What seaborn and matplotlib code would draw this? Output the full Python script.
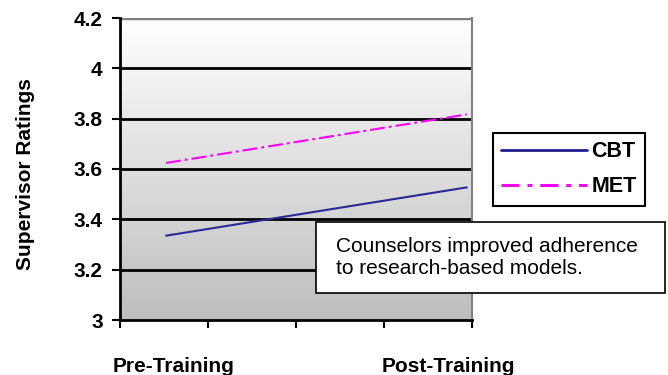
import numpy as np
import pandas as pd
import matplotlib
matplotlib.use("Agg")
import matplotlib.pyplot as plt
from matplotlib.colors import LinearSegmentedColormap
from matplotlib.lines import Line2D
from matplotlib.patches import Rectangle
import seaborn as sns

stages = ["Pre-Training", "Post-Training"]
cbt = [3.335, 3.527]
met = [3.624, 3.817]
yticks = [3, 3.2, 3.4, 3.6, 3.8, 4, 4.2]
ytick_labels = ["3", "3.2", "3.4", "3.6", "3.8", "4", "4.2"]
note = "Counselors improved adherence\nto research-based models."

df = pd.DataFrame({
    "stage": stages * 2,
    "rating": cbt + met,
    "group": ["CBT"] * 2 + ["MET"] * 2,
})

sns.set_style("white")
plt.rcParams["font.family"] = ["Liberation Sans", "DejaVu Sans"]
plt.rcParams["text.color"] = "black"
plt.rcParams["xtick.color"] = "black"
plt.rcParams["ytick.color"] = "black"

fig = plt.figure(figsize=(6.68, 3.75), dpi=100)
ax = fig.add_axes([120 / 668, 55 / 375, 352 / 668, 302 / 375])
x0, x1 = -0.153, 1.017

# white-to-gray gradient behind the plot
grad = np.linspace(0, 1, 256).reshape(-1, 1)
bg = LinearSegmentedColormap.from_list("bg", ["#ffffff", "#bebebe"])
ax.imshow(grad, cmap=bg, aspect="auto", extent=[x0, x1, 3.0, 4.2], origin="upper", zorder=0)

sns.lineplot(data=df, x="stage", y="rating", hue="group", style="group",
             palette={"CBT": "#2a2a96", "MET": "#ff00ff"},
             dashes={"CBT": "", "MET": (7.2, 1.9, 1.4, 1.9)},
             linewidth=1.5, ax=ax, zorder=3, legend=False)

ax.set_xlim(x0, x1)
ax.set_ylim(3, 4.2)
ax.set_yticks(yticks)
ax.set_yticklabels(ytick_labels, fontweight="bold", fontsize=15)
for y in yticks[1:-1]:
    ax.axhline(y, color="black", linewidth=2, zorder=2)
ax.axhline(4.2, color="#808080", linewidth=2.5, zorder=2)

ax.set_xticks(np.linspace(x0, x1, 5))
ax.set_xticklabels([])
ax.tick_params(axis="both", direction="out", length=6, width=1.5, pad=6.5,
               left=True, bottom=True)
ax.set_xlabel("")
ax.set_ylabel("")

for s in ["left", "bottom"]:
    ax.spines[s].set_color("black")
    ax.spines[s].set_linewidth(2)
ax.spines["right"].set_color("#808080")
ax.spines["right"].set_linewidth(1.5)
ax.spines["top"].set_visible(False)

fig.text(26 / 668, 1 - 174 / 375, "Supervisor Ratings", rotation=90, ha="center", va="center",
         fontweight="bold", fontsize=15)

lab_tr = matplotlib.transforms.blended_transform_factory(ax.transData, fig.transFigure)
ax.text(0.024, 3.5 / 375, stages[0], transform=lab_tr, ha="center", va="baseline",
        fontweight="bold", fontsize=15)
ax.text(0.94, 3.5 / 375, stages[1], transform=lab_tr, ha="center", va="baseline",
        fontweight="bold", fontsize=15)

handles = [
    Line2D([], [], color="#202090", linewidth=2),
    Line2D([], [], color="#ff00ff", linewidth=2.2, dashes=(5.9, 2.6, 1.6, 2.6)),
]
leg = fig.legend(handles, ["CBT", "MET"], loc="upper left",
                 bbox_to_anchor=(493 / 668, 1 - 133 / 375), frameon=True,
                 fancybox=False, handlelength=4.0, handletextpad=0.2,
                 prop={"weight": "bold", "size": 15.5}, borderpad=0.38,
                 labelspacing=0.66, borderaxespad=0)
leg.get_frame().set_edgecolor("black")
leg.get_frame().set_linewidth(1.5)
leg.get_frame().set_alpha(1)

box = Rectangle((316 / 668, 1 - 293 / 375), 349 / 668, 71 / 375,
                transform=fig.transFigure, facecolor="white",
                edgecolor="black", linewidth=1.2, zorder=5)
fig.add_artist(box)
fig.text(336 / 668, 1 - 258 / 375, note, ha="left", va="center", fontsize=15,
         linespacing=1.2, zorder=6)

fig.savefig("out.png", dpi=100)
